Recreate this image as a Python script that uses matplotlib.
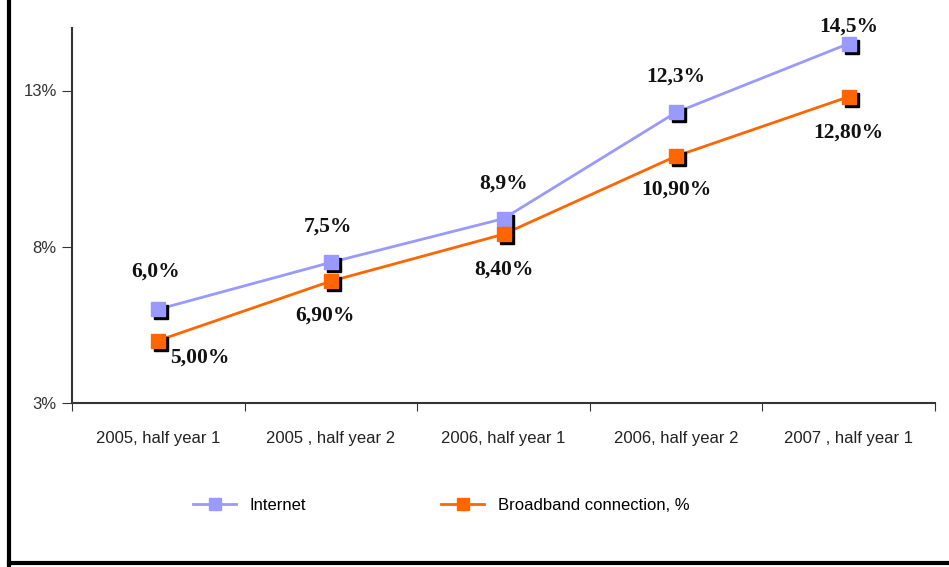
#!/usr/bin/env python3

# imports
import matplotlib
matplotlib.use('Agg')
import matplotlib.pyplot as plt
from matplotlib.lines import Line2D
from matplotlib.transforms import offset_copy

# data
periods = ['2005, half year 1', '2005 , half year 2', '2006, half year 1',
           '2006, half year 2', '2007 , half year 1']
internet = [6.0, 7.5, 8.9, 12.3, 14.5]
broadband = [5.0, 6.9, 8.4, 10.9, 12.8]
internet_labels = ['6,0%', '7,5%', '8,9%', '12,3%', '14,5%']
broadband_labels = ['5,00%', '6,90%', '8,40%', '10,90%', '12,80%']
y_ticks = [3, 8, 13]
y_tick_labels = ['3%', '8%', '13%']

# label offsets in pixels (dx, dy) relative to each point
internet_offsets = [(-3, 38), (-3, 36), (0, 35), (0, 36), (0, 17)]
broadband_offsets = [(42, -17), (-6, -34), (0, -35), (0, -33), (0, -36)]

tick_font = ['Liberation Sans Narrow', 'Liberation Sans', 'DejaVu Sans']
label_font = ['Liberation Serif', 'DejaVu Serif']

fig = plt.figure(figsize=(9.49, 5.67), dpi=100)
ax = fig.add_axes([72 / 949, 1 - 403 / 567, (935 - 72) / 949, (403 - 28) / 567])

x = list(range(len(periods)))
shadow = offset_copy(ax.transData, fig=fig, x=3, y=-3, units='dots')

series = [
    (internet, '#9999FF', 'Internet', internet_labels, internet_offsets),
    (broadband, '#FF6600', 'Broadband connection, %', broadband_labels, broadband_offsets),
]
for values, color, name, labels, offsets in series:
    ax.plot(x, values, color=color, linewidth=2, zorder=2)
    ax.plot(x, values, linestyle='none', marker='s', markersize=10,
            color='black', transform=shadow, zorder=3)
    ax.plot(x, values, linestyle='none', marker='s', markersize=10,
            color=color, zorder=4)
    for xi, v, lab, (dx, dy) in zip(x, values, labels, offsets):
        ax.annotate(lab, (xi, v), xytext=(dx * 0.72, dy * 0.72),
                    textcoords='offset points', ha='center', va='center',
                    fontsize=15.5, fontweight='bold', family=label_font,
                    color='#111111')

ax.set_xlim(-0.5, len(periods) - 0.5)
ax.set_ylim(3, 15)
ax.set_yticks(y_ticks)
ax.set_yticklabels(y_tick_labels, family=tick_font, fontsize=12, color='#333333')
ax.set_xticks([i - 0.5 for i in range(len(periods) + 1)], minor=False)
ax.set_xticklabels([''] * (len(periods) + 1))
ax.set_xticks(x, minor=True)
ax.set_xticklabels(periods, minor=True, family=tick_font, fontsize=12, color='#222222')
ax.tick_params(axis='x', which='minor', length=0, pad=20)
ax.tick_params(axis='x', which='major', length=6, direction='out', color='#333333')
ax.tick_params(axis='y', length=7, direction='out', color='#333333', pad=4)

for side in ['top', 'right']:
    ax.spines[side].set_visible(False)
for side in ['left', 'bottom']:
    ax.spines[side].set_color('#333333')
    ax.spines[side].set_linewidth(1.5)

# legend below the plot
handles = [Line2D([], [], color=c, linewidth=2, marker='s', markersize=8) for _, c, _, _, _ in series]
names = [s[2] for s in series]
fig.legend(handles, names, loc='center left', ncol=2, frameon=False,
           bbox_to_anchor=(193 / 949, 1 - 505 / 567), borderaxespad=0, borderpad=0,
           handlelength=2.6, handletextpad=0.8, columnspacing=8.1,
           prop={'family': tick_font, 'size': 12})

# picture frame on left and bottom
fig.add_artist(Line2D([9 / 949, 9 / 949], [0, 1], color='black', linewidth=3,
                      transform=fig.transFigure))
fig.add_artist(Line2D([9 / 949, 1], [1 - 563 / 567, 1 - 563 / 567], color='black',
                      linewidth=3, transform=fig.transFigure))

fig.savefig('out.png', dpi=100)
print('Plot saved to out.png')
